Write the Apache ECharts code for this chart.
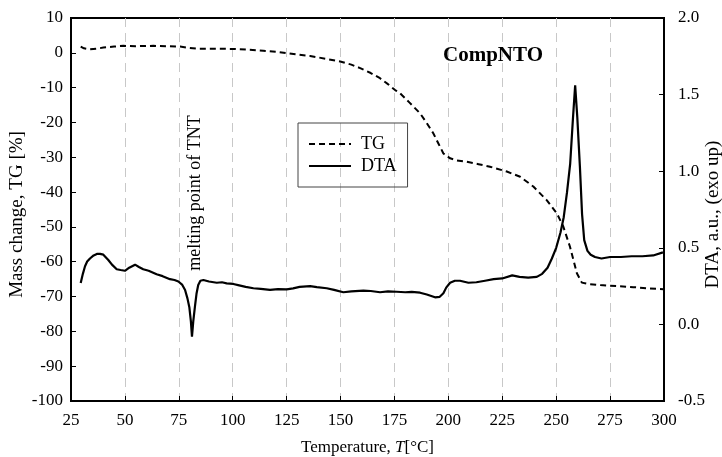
<!DOCTYPE html>
<html>
<head>
<meta charset="utf-8">
<script src="https://cdn.jsdelivr.net/npm/echarts@6.0.0/dist/echarts.min.js"></script>
<style>
  html, body { margin: 0; padding: 0; background: #fff; }
  #chart { width: 722px; height: 457px; }
</style>
</head>
<body>
<div id="chart"></div>
<script>
// TG curve (left axis, mass change %)
const tgTemp = [29.5, 31, 33.8, 37, 40, 45, 49.3, 55, 63.2, 70, 75.6, 80, 83.3, 90, 100.3, 107, 114.2, 120, 125, 130,
  135.9, 143, 149.8, 155, 159.1, 164, 168.3, 172, 175.3, 177.6, 182, 186.9, 190, 193, 195.5, 197.7, 200.8, 204, 208.5,
  214, 219.3, 227.1, 233.3, 239.4, 245.6, 250.3, 253.3, 256.4, 259.6, 261.9, 265, 270.4, 278, 285.8, 292, 299.7]
const tgMass = [1.8, 1.3, 1.0, 1.2, 1.5, 1.8, 2.0, 1.9, 2.0, 1.9, 1.8, 1.4, 1.2, 1.2, 1.1, 0.9, 0.6, 0.3, -0.1, -0.5,
  -0.9, -1.7, -2.5, -3.4, -4.4, -5.8, -7.3, -9.0, -10.7, -11.6, -14.3, -17.4, -20.2, -23.1, -26.2, -28.9, -30.3, -30.9, -31.3,
  -32.0, -32.7, -34.1, -35.6, -38.4, -42.3, -46.1, -49.9, -55.7, -63.3, -66.0, -66.4, -66.7, -67.0, -67.3, -67.6, -67.9]

// DTA curve (right axis, a.u.)
const dtaTemp = [29.5, 30.5, 31.5, 32.5, 33.8, 35.5, 37, 38.5, 40, 42.3, 44, 46.2, 48, 50, 52, 54.7, 56.5, 58.5, 61, 64.7,
  67.5, 70.9, 73, 74.8, 76.5, 77.9, 79, 79.9, 80.6, 81.1, 81.7, 82.5, 83.2, 84, 85, 86.4, 89, 92.6, 95, 97.2,
  100.3, 103, 106, 109.6, 113, 117.3, 121, 125, 128, 131, 135.9, 139, 143.6, 147, 151.3, 155, 160.6, 164, 168.3, 172,
  176, 180, 183, 186.9, 190, 193.8, 196, 197.7, 199, 200.8, 203, 205.4, 209.3, 213, 217, 221, 225, 229.6, 233, 237,
  241, 243.5, 246, 248, 250, 252, 253.5, 255, 256.5, 257.8, 258.8, 259.8, 261, 262, 263, 264.5, 266, 268, 271, 275,
  280, 285, 290, 295, 299.5]
const dtaSignal = [0.27, 0.33, 0.38, 0.41, 0.43, 0.45, 0.46, 0.46, 0.455, 0.42, 0.39, 0.36, 0.355, 0.35, 0.37, 0.39, 0.375, 0.36, 0.35, 0.327,
  0.315, 0.295, 0.29, 0.28, 0.26, 0.225, 0.17, 0.11, 0.02, -0.08, 0.02, 0.12, 0.2, 0.257, 0.285, 0.29, 0.28, 0.272, 0.275, 0.268,
  0.264, 0.255, 0.245, 0.236, 0.232, 0.225, 0.23, 0.229, 0.235, 0.245, 0.25, 0.243, 0.236, 0.225, 0.21, 0.215, 0.22, 0.218, 0.21, 0.215,
  0.213, 0.21, 0.212, 0.207, 0.195, 0.177, 0.18, 0.203, 0.24, 0.272, 0.285, 0.285, 0.272, 0.275, 0.285, 0.295, 0.3, 0.32, 0.31, 0.305,
  0.31, 0.33, 0.37, 0.43, 0.5, 0.6, 0.7, 0.86, 1.05, 1.35, 1.56, 1.35, 1.03, 0.72, 0.55, 0.48, 0.455, 0.44, 0.43, 0.44,
  0.44, 0.445, 0.445, 0.45, 0.47]

const font = 'Liberation Serif, Times New Roman, serif'

const chart = echarts.init(document.getElementById('chart'))

const option = {
  backgroundColor: '#fff',
  animation: false,
  textStyle: { fontFamily: font, color: '#000' },
  title: {
    text: 'CompNTO',
    left: 438,
    top: 40,
    textStyle: { fontFamily: font, fontSize: 21, fontWeight: 'bold', color: '#000' }
  },
  legend: {
    orient: 'vertical',
    left: 298,
    top: 123,
    data: ['TG', 'DTA'],
    itemWidth: 42,
    itemHeight: 14,
    itemGap: 4,
    padding: [12, 11, 12, 10],
    borderColor: '#444',
    borderWidth: 1,
    itemStyle: { color: 'transparent', borderColor: 'transparent', borderWidth: 0 },
    textStyle: { fontFamily: font, fontSize: 18, color: '#000', padding: [0, 0, 0, 5] }
  },
  grid: {
    left: 71,
    right: 58,
    top: 18,
    bottom: 56,
    containLabel: false,
    outerBoundsMode: 'none',
    show: true,
    borderColor: '#000',
    borderWidth: 2
  },
  xAxis: {
    type: 'value',
    min: 25,
    max: 300,
    interval: 25,
    name: 'Temperature, {i|T}[°C]',
    nameLocation: 'middle',
    nameGap: 38,
    nameMoveOverlap: false,
    nameTextStyle: {
      fontFamily: font, fontSize: 17, color: '#000',
      rich: { i: { fontFamily: font, fontSize: 17, fontStyle: 'italic', color: '#000' } }
    },
    axisLine: { onZero: false, lineStyle: { color: '#000', width: 2 } },
    axisTick: { inside: true, length: 5, lineStyle: { color: '#000' } },
    axisLabel: { color: '#000', fontSize: 17, margin: 11, fontFamily: font },
    splitLine: {
      show: true,
      lineStyle: { color: '#c8c8c8', type: [9, 6], width: 1 }
    }
  },
  yAxis: [
    {
      type: 'value',
      min: -100,
      max: 10,
      interval: 10,
      name: 'Mass change, TG [%]',
      nameLocation: 'middle',
      nameRotate: 90,
      nameGap: 44,
      nameMoveOverlap: false,
      nameTextStyle: { fontFamily: font, fontSize: 19, color: '#000', padding: [0, 10, 0, 0] },
      axisLine: { show: true, onZero: false, lineStyle: { color: '#000', width: 2 } },
      axisTick: { show: true, inside: true, length: 5, lineStyle: { color: '#000' } },
      axisLabel: { color: '#000', fontSize: 17, margin: 8, fontFamily: font },
      splitLine: { show: false }
    },
    {
      type: 'value',
      min: -0.5,
      max: 2.0,
      interval: 0.5,
      position: 'right',
      name: 'DTA, a.u., (exo up)',
      nameLocation: 'middle',
      nameRotate: 90,
      nameGap: 40,
      nameMoveOverlap: false,
      nameTextStyle: { fontFamily: font, fontSize: 19, color: '#000', padding: [0, 10, 0, 0] },
      axisLine: { show: true, onZero: false, lineStyle: { color: '#000', width: 2 } },
      axisTick: { show: true, inside: true, length: 5, lineStyle: { color: '#000' } },
      axisLabel: {
        color: '#000', fontSize: 17, margin: 14, fontFamily: font,
        formatter: v => v.toFixed(1)
      },
      splitLine: { show: false }
    }
  ],
  graphic: [
    {
      type: 'text',
      x: 195,
      y: 193,
      rotation: Math.PI / 2,
      style: {
        text: 'melting point of TNT',
        font: '18px ' + font,
        fill: '#000',
        align: 'center',
        verticalAlign: 'middle'
      }
    }
  ],
  series: [
    {
      name: 'TG',
      type: 'line',
      yAxisIndex: 0,
      symbol: 'none',
      data: tgTemp.map((t, i) => [t, tgMass[i]]),
      lineStyle: { color: '#000', width: 2, type: [6, 4] },
      itemStyle: { color: '#000' }
    },
    {
      name: 'DTA',
      type: 'line',
      yAxisIndex: 1,
      symbol: 'none',
      data: dtaTemp.map((t, i) => [t, dtaSignal[i]]),
      lineStyle: { color: '#000', width: 2.2 },
      itemStyle: { color: '#000' }
    }
  ]
}

chart.setOption(option)
</script>
</body>
</html>
